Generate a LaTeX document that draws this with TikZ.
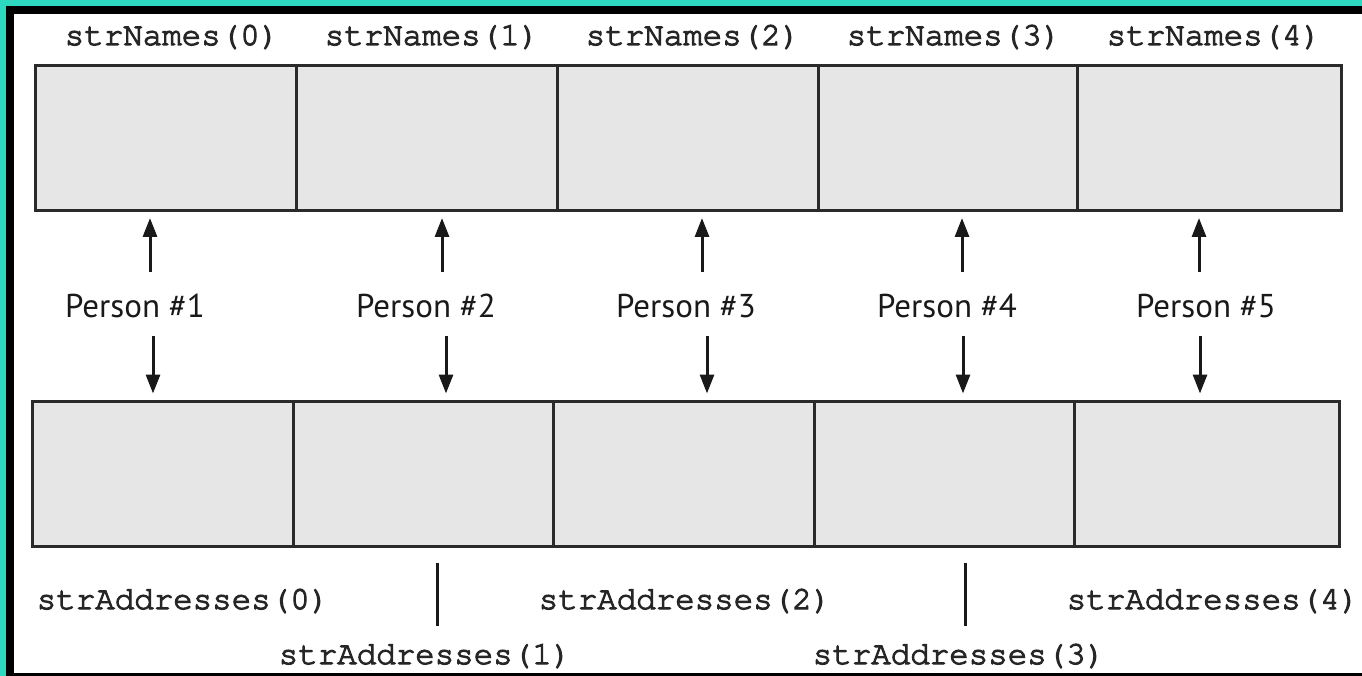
\documentclass[tikz,border=0pt]{standalone}
\usepackage[T1]{fontenc}
\usepackage{fontspec}
\setmainfont{PT Sans}
\newcommand\monof{\fontencoding{T1}\fontfamily{pcr}\fontseries{m}\selectfont}
\newcommand\thicktext[1]{\special{pdf:literal direct 2 Tr 1.1 w}#1\special{pdf:literal direct 0 Tr}}
\usetikzlibrary{arrows.meta}
\definecolor{teal1}{HTML}{2ED8C0}
\definecolor{cellgray}{HTML}{E6E6E6}
\definecolor{edge}{HTML}{2A2A2A}
\begin{document}
\begin{tikzpicture}[x=1pt,y=-1pt,
  cell/.style={draw=edge,fill=cellgray,line width=3pt,inner sep=0pt,minimum height=145pt},
  monolbl/.style={font=\monof\fontsize{32.5}{36}\selectfont,text=black!85,inner sep=0pt,anchor=base},
  addrlbl/.style={font=\monof\fontsize{32.5}{36}\selectfont,text=black!85,inner sep=0pt,anchor=base},
  perslbl/.style={font=\fontsize{33}{38}\selectfont,text=black!90,inner sep=0pt,anchor=base},
  arr/.style={line width=3pt,draw=black!90,-{Triangle[length=19pt,width=14pt]}},
  vline/.style={line width=3pt,draw=black!90}]
\useasboundingbox (0,0) rectangle (1362,676);
\fill[teal1] (0,0) rectangle (1362,676);
\fill[black] (6,6) rectangle (1362,676);
\fill[white] (14,14) rectangle (1362,673);
% top row
\node[cell,minimum width=261pt] (n0) at (165.5,138) {};
\node[cell,minimum width=261pt] (n1) at (426.5,138) {};
\node[cell,minimum width=261pt] (n2) at (687.5,138) {};
\node[cell,minimum width=259pt] (n3) at (947.5,138) {};
\node[cell,minimum width=264pt] (n4) at (1209,138) {};
% bottom row
\node[cell,minimum width=261pt] (a0) at (162.5,473.5) {};
\node[cell,minimum width=260pt] (a1) at (423,473.5) {};
\node[cell,minimum width=261pt] (a2) at (683.5,473.5) {};
\node[cell,minimum width=260pt] (a3) at (944,473.5) {};
\node[cell,minimum width=265pt] (a4) at (1206.5,473.5) {};
% top labels
\node[monolbl] (t0) at (172,45) {\thicktext{strNames(0)}};
\node[monolbl] (t1) at (432,45) {\thicktext{strNames(1)}};
\node[monolbl] (t2) at (693,45) {\thicktext{strNames(2)}};
\node[monolbl] (t3) at (954,45) {\thicktext{strNames(3)}};
\node[monolbl] (t4) at (1214,45) {\thicktext{strNames(4)}};
% person labels
\node[perslbl] (p1) at (135,317) {Person \#1};
\node[perslbl] (p2) at (426,317) {Person \#2};
\node[perslbl] (p3) at (686,317) {Person \#3};
\node[perslbl] (p4) at (947,317) {Person \#4};
\node[perslbl] (p5) at (1206,317) {Person \#5};
% arrow tails
\coordinate (u1) at (150,272); \coordinate (d1) at (153,336);
\coordinate (u2) at (442,272); \coordinate (d2) at (446,336);
\coordinate (u3) at (702,272); \coordinate (d3) at (707,336);
\coordinate (u4) at (962,272); \coordinate (d4) at (963,336);
\coordinate (u5) at (1199,272); \coordinate (d5) at (1200,336);
\draw[arr,shorten >=6pt] (u1) -- (u1 |- n0.south);
\draw[arr,shorten >=6pt] (u2) -- (u2 |- n1.south);
\draw[arr,shorten >=6pt] (u3) -- (u3 |- n2.south);
\draw[arr,shorten >=6pt] (u4) -- (u4 |- n3.south);
\draw[arr,shorten >=6pt] (u5) -- (u5 |- n4.south);
\draw[arr,shorten >=6pt] (d1) -- (d1 |- a0.north);
\draw[arr,shorten >=6pt] (d2) -- (d2 |- a1.north);
\draw[arr,shorten >=6pt] (d3) -- (d3 |- a2.north);
\draw[arr,shorten >=6pt] (d4) -- (d4 |- a3.north);
\draw[arr,shorten >=6pt] (d5) -- (d5 |- a4.north);
% bottom labels
\node[addrlbl] (b0) at (183,609) {\thicktext{strAddresses(0)}};
\node[addrlbl] (b1) at (425,664) {\thicktext{strAddresses(1)}};
\node[addrlbl] (b2) at (685,609) {\thicktext{strAddresses(2)}};
\node[addrlbl] (b3) at (959,664) {\thicktext{strAddresses(3)}};
\node[addrlbl] (b4) at (1213,609) {\thicktext{strAddresses(4)}};
% separator ticks
\coordinate (s1a) at (437,563); \coordinate (s1b) at (437,626);
\coordinate (s3a) at (965,563); \coordinate (s3b) at (965,626);
\draw[vline] (s1a) -- (s1b);
\draw[vline] (s3a) -- (s3b);
\end{tikzpicture}
\end{document}
